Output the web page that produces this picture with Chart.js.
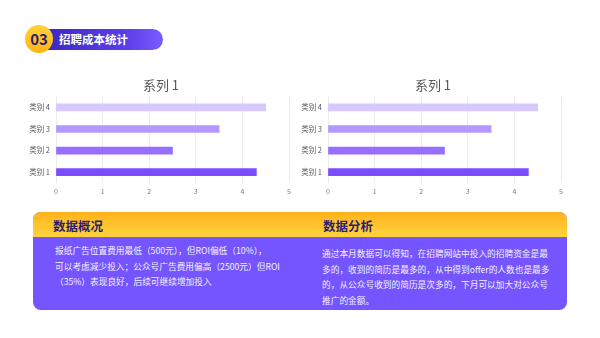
<!DOCTYPE html>
<html>
<head>
<meta charset="utf-8">
<script src="https://cdn.jsdelivr.net/npm/chart.js@4"></script>
<style>
  body { margin: 0; width: 600px; height: 338px; background: #fff; position: relative; overflow: hidden;
         font-family: "Noto Sans CJK SC", "Noto Sans", sans-serif; }
  .badge { position: absolute; left: 25px; top: 25px; width: 28px; height: 28px; border-radius: 50%;
           background: linear-gradient(180deg, #ffd23a, #ffb414); z-index: 2;
           color: #2b1f70; font-weight: 700; font-size: 15px; line-height: 28px; text-align: center; }
  .pill { position: absolute; left: 38px; top: 29px; width: 125px; height: 21px; border-radius: 11px;
          background: linear-gradient(90deg, #3a26c0, #5a3ee8 70%, #7a5cff); }
  .pill span { position: absolute; left: 21px; top: 0; line-height: 21px; color: #fff; font-weight: 700; font-size: 11.5px; }
  .box { position: absolute; width: 280px; height: 130px; top: 70px; }
  .panel { position: absolute; left: 33px; top: 212px; width: 534px; height: 98px; border-radius: 8px; overflow: hidden;
           background: #7455ff; }
  .panel .band { position: absolute; left: 0; top: 0; width: 100%; height: 25px;
                 background: linear-gradient(180deg, #ffb21c, #ffd43e); }
  .head { position: absolute; top: 1px; line-height: 25px; font-size: 12.5px; font-weight: 700; color: #2c1f6b; }
  .txt { position: absolute; font-size: 8.7px; line-height: 15.5px; color: #f4f0ff; white-space: nowrap; }
</style>
</head>
<body>
<div class="pill"><span>招聘成本统计</span></div>
<div class="badge">03</div>

<div class="box" style="left:20px"><canvas id="chartLeft"></canvas></div>
<div class="box" style="left:292px"><canvas id="chartRight"></canvas></div>

<div class="panel">
  <div class="band"></div>
  <div class="head" style="left:20px">数据概况</div>
  <div class="head" style="left:290px">数据分析</div>
  <div class="txt" style="left:22px; top:31px">报纸广告位置费用最低（500元），但ROI偏低（10%），<br>可以考虑减少投入；公众号广告费用偏高（2500元）但ROI<br>（35%）表现良好，后续可继续增加投入</div>
  <div class="txt" style="left:289px; top:34px">通过本月数据可以得知，在招聘网站中投入的招聘资金是最<br>多的，收到的简历是最多的，从中得到offer的人数也是最多<br>的，从公众号收到的简历是次多的，下月可以加大对公众号<br>推广的金额。</div>
</div>

<script>
const categories = ['类别 1', '类别 2', '类别 3', '类别 4'];
const seriesName = '系列 1';
const seriesValues = [4.3, 2.5, 3.5, 4.5];
const xTicks = [0, 1, 2, 3, 4, 5];

const barColors = ['#7b4cff', '#976fff', '#b497ff', '#d7c9ff'];

// nudge the title a little right, the original centres it off the full width
const titleShift = {
  id: 'titleShift',
  afterLayout(chart) {
    if (chart.titleBlock) chart.titleBlock.left += 13;
  }
};

function makeChart(id) {
  const ctx = document.getElementById(id).getContext('2d');
  return new Chart(ctx, {
    type: 'bar',
    data: {
      labels: categories,
      datasets: [{
        label: seriesName,
        data: seriesValues,
        backgroundColor: barColors,
        barThickness: 7
      }]
    },
    plugins: [titleShift],
    options: {
      indexAxis: 'y',
      responsive: true,
      maintainAspectRatio: false,
      animation: false,
      layout: { padding: { left: 0, right: 11, top: 0, bottom: 0 } },
      plugins: {
        legend: { display: false },
        tooltip: { enabled: false },
        title: {
          display: true,
          text: seriesName,
          color: '#595959',
          font: { size: 13, weight: 'normal', family: '"Noto Sans CJK SC", sans-serif' },
          padding: { top: 7, bottom: 4 }
        }
      },
      scales: {
        x: {
          min: xTicks[0],
          max: xTicks[xTicks.length - 1],
          afterBuildTicks: s => { s.ticks = xTicks.map(v => ({ value: v })); },
          afterFit: s => { s.height = 17; },
          grid: { color: '#ebebeb', drawTicks: false },
          border: { display: false },
          ticks: { color: '#808080', padding: 4, font: { size: 7, family: '"Noto Sans CJK SC", sans-serif' } }
        },
        y: {
          reverse: true,
          afterFit: s => { s.width = 36; },
          grid: { display: false, drawTicks: false },
          border: { display: false },
          ticks: { color: '#595959', padding: 6, font: { size: 7.5, family: '"Noto Sans CJK SC", sans-serif' } }
        }
      }
    }
  });
}

makeChart('chartLeft');
makeChart('chartRight');
</script>
</body>
</html>
